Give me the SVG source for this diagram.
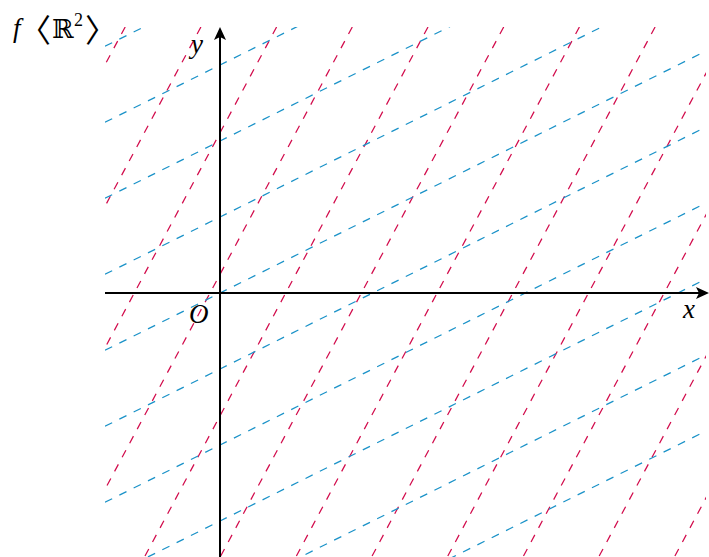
<svg xmlns="http://www.w3.org/2000/svg" width="709" height="557" viewBox="0 0 709 557">
<style>
.bl{stroke:#1a92c8;stroke-width:1.25;stroke-dasharray:8 8;fill:none}
.rd{stroke:#d20c4c;stroke-width:1.25;stroke-dasharray:8 8;fill:none}
.ax{stroke:#000;stroke-width:2;fill:none}
.m{font-family:"Liberation Serif","DejaVu Serif",serif;font-style:italic;font-size:27px;fill:#000}
.br{font-family:"Noto Sans CJK SC",sans-serif;font-size:32px;fill:#000}
</style>
<defs>
<clipPath id="cp"><rect x="105" y="27" width="601" height="530"/></clipPath>
</defs>
<rect width="709" height="557" fill="#fff"/>
<g id="connectors" clip-path="url(#cp)">
<g id="red-lines">
<line class="rd" x1="125.2" y1="27" x2="-158.3" y2="557"/>
<line class="rd" x1="200.9" y1="27" x2="-82.6" y2="557"/>
<line class="rd" x1="276.6" y1="27" x2="-6.9" y2="557"/>
<line class="rd" x1="352.3" y1="27" x2="68.8" y2="557"/>
<line class="rd" x1="428" y1="27" x2="144.5" y2="557"/>
<line class="rd" x1="503.7" y1="27" x2="220.2" y2="557"/>
<line class="rd" x1="579.4" y1="27" x2="295.9" y2="557"/>
<line class="rd" x1="655.1" y1="27" x2="371.6" y2="557"/>
<line class="rd" x1="730.8" y1="27" x2="447.3" y2="557"/>
<line class="rd" x1="806.5" y1="27" x2="523" y2="557"/>
<line class="rd" x1="882.2" y1="27" x2="598.7" y2="557"/>
<line class="rd" x1="957.9" y1="27" x2="674.4" y2="557"/>
</g>
<g id="blue-lines">
<line class="bl" x1="105" y1="46.3" x2="705" y2="-252.5"/>
<line class="bl" x1="105" y1="122.3" x2="705" y2="-176.5"/>
<line class="bl" x1="105" y1="198.3" x2="705" y2="-100.5"/>
<line class="bl" x1="105" y1="274.3" x2="705" y2="-24.5"/>
<line class="bl" x1="105" y1="350.3" x2="705" y2="51.5"/>
<line class="bl" x1="105" y1="426.3" x2="705" y2="127.5"/>
<line class="bl" x1="105" y1="502.3" x2="705" y2="203.5"/>
<line class="bl" x1="105" y1="578.3" x2="705" y2="279.5"/>
<line class="bl" x1="105" y1="654.3" x2="705" y2="355.5"/>
<line class="bl" x1="105" y1="730.3" x2="705" y2="431.5"/>
</g>
</g>
<g id="x-axis">
<line class="ax" x1="105" y1="293" x2="703" y2="293"/>
<path d="M709,293 L696,287 L699,293 L696,299 Z" fill="#000"/>
<text class="m" x="683" y="318">x</text>
</g>
<g id="y-axis">
<line class="ax" x1="220" y1="557" x2="220" y2="34"/>
<path d="M220,27 L214,40 L220,37 L226,40 Z" fill="#000"/>
<text class="m" x="191" y="53">y</text>
</g>
<g id="origin">
<text class="m" x="189" y="323">O</text>
</g>
<g id="title">
<text class="m" x="13" y="37" font-size="29">f</text>
<text class="br" x="19" y="42">〈</text>
<text x="52" y="38" font-family="DejaVu Serif, serif" font-size="26">ℝ</text>
<text x="74" y="26" font-family="Liberation Serif, serif" font-size="18">2</text>
<text class="br" x="85" y="42">〉</text>
</g>
</svg>
